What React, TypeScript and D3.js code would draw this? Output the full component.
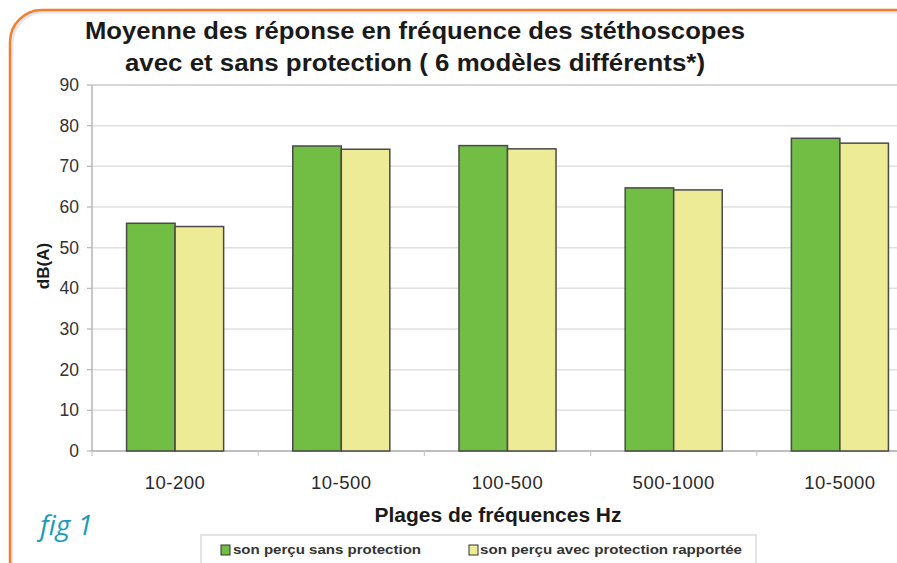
import React from "react";
import * as d3 from "d3";

const categories = ["10-200", "10-500", "100-500", "500-1000", "10-5000"];
const seriesNames = ["son perçu sans protection", "son perçu avec protection rapportée"];
const sansProtection = [56.0, 75.0, 75.1, 64.7, 76.9];
const avecProtection = [55.2, 74.2, 74.3, 64.2, 75.7];
const yTicks = [0, 10, 20, 30, 40, 50, 60, 70, 80, 90];
const colors = ["#72bd43", "#eeeb96"];

const W = 897;
const H = 563;
const left = 92;
const right = 923;
const top = 85;
const bottom = 451;

export default function App() {
  const y = d3.scaleLinear().domain([0, 90]).range([bottom, top]);
  const x0 = d3
    .scaleBand<string>()
    .domain(categories)
    .range([left, right])
    .paddingInner(0.416)
    .paddingOuter(0.208);
  const x1 = d3
    .scaleBand<number>()
    .domain([0, 1])
    .range([0, x0.bandwidth()]);
  const series = [sansProtection, avecProtection];
  const font = "Liberation Sans, Arial, sans-serif";
  const step = x0.step();

  return (
    <svg
      width={W}
      height={H}
      style={{ position: "absolute", left: 0, top: 0, background: "#fff" }}
      fontFamily={font}
    >
      {/* orange rounded frame */}
      <rect x={12} y={12} width={W + 20} height={H + 20} rx={32} ry={32} fill="none" stroke="#e7e7e7" strokeWidth={3} />
      <rect x={10} y={10} width={W + 20} height={H + 20} rx={32} ry={32} fill="none" stroke="#f47e2c" strokeWidth={2.5} />

      {/* title */}
      <text x={415} y={39} textAnchor="middle" fontSize={23.5} fontWeight="bold" fill="#1a1a1a" textLength={660} lengthAdjust="spacingAndGlyphs">
        Moyenne des réponse en fréquence des stéthoscopes
      </text>
      <text x={415} y={71} textAnchor="middle" fontSize={23.5} fontWeight="bold" fill="#1a1a1a" textLength={580} lengthAdjust="spacingAndGlyphs">
        avec et sans protection ( 6 modèles différents*)
      </text>

      {/* grid */}
      {yTicks.map((t) => (
        <line key={"g" + t} x1={left} x2={right} y1={y(t)} y2={y(t)} stroke={t === 0 ? "#a8a8a8" : "#e0e0e0"} strokeWidth={1.5} />
      ))}
      <line x1={left} x2={left} y1={top} y2={bottom} stroke="#b5b5b5" strokeWidth={1.5} />
      <line x1={left} x2={right} y1={top} y2={top} stroke="#d0d0d0" strokeWidth={1.5} />
      {yTicks.map((t) => (
        <line key={"t" + t} x1={left - 5} x2={left} y1={y(t)} y2={y(t)} stroke="#b5b5b5" strokeWidth={1.2} />
      ))}
      {categories.map((c, i) => (
        <line key={"xt" + c} x1={left + i * step} x2={left + i * step} y1={bottom} y2={bottom + 5} stroke="#c8c8c8" strokeWidth={1.2} />
      ))}

      {/* y tick labels */}
      {yTicks.map((t) => (
        <text key={"l" + t} x={79} y={y(t) + 6} textAnchor="end" fontSize={17.5} fill="#333">
          {t}
        </text>
      ))}
      <text transform={`translate(49,${(top + bottom) / 2 - 2}) rotate(-90)`} textAnchor="middle" fontSize={17} fontWeight="bold" fill="#1a1a1a">
        dB(A)
      </text>

      {/* bars */}
      {categories.map((c, ci) =>
        series.map((s, si) => (
          <rect
            key={c + si}
            x={(x0(c) as number) + (x1(si) as number)}
            y={y(s[ci])}
            width={x1.bandwidth()}
            height={bottom - y(s[ci])}
            fill={colors[si]}
            stroke="#4a4a4a"
            strokeWidth={1.5}
          />
        ))
      )}

      {/* x labels */}
      {categories.map((c) => (
        <text key={"xl" + c} x={(x0(c) as number) + x0.bandwidth() / 2} y={489} textAnchor="middle" fontSize={18.5} fill="#2a2a2a" letterSpacing={0.5}>
          {c}
        </text>
      ))}
      <text x={498} y={522} textAnchor="middle" fontSize={20} fontWeight="bold" fill="#1a1a1a" textLength={247} lengthAdjust="spacingAndGlyphs">
        Plages de fréquences Hz
      </text>

      {/* fig 1 */}
      <text x={40} y={535} fontSize={28} fontStyle="italic" fill="#1c9cb8" fontFamily="Open Sans, Noto Sans, sans-serif">
        fig 1
      </text>

      {/* legend */}
      <rect x={201} y={535} width={555} height={40} fill="#fff" stroke="#dcdcdc" strokeWidth={1.5} />
      <rect x={221} y={545} width={9} height={10} fill={colors[0]} stroke="#333" strokeWidth={1} />
      <text x={233} y={554} fontSize={12} fontWeight="bold" fill="#333" textLength={188} lengthAdjust="spacingAndGlyphs">
        {seriesNames[0]}
      </text>
      <rect x={469} y={545} width={9} height={10} fill={colors[1]} stroke="#333" strokeWidth={1} />
      <text x={480} y={554} fontSize={12} fontWeight="bold" fill="#333" textLength={262} lengthAdjust="spacingAndGlyphs">
        {seriesNames[1]}
      </text>
    </svg>
  );
}
